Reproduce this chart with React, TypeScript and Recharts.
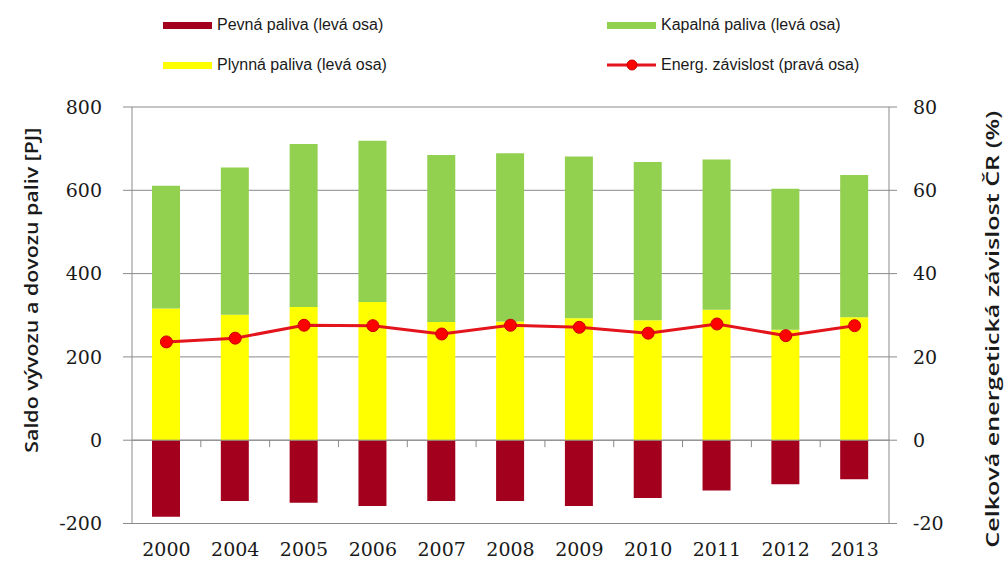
import {
  ComposedChart,
  Bar,
  Line,
  XAxis,
  YAxis,
  CartesianGrid,
  ReferenceLine,
} from "recharts";

const years = ["2000", "2004", "2005", "2006", "2007", "2008", "2009", "2010", "2011", "2012", "2013"];
const pevna = [-184, -146, -150, -158, -146, -146, -158, -139, -121, -106, -94];
const plynna = [316, 301, 320, 332, 284, 285, 293, 288, 313, 265, 295];
const kapalna = [295, 354, 391, 387, 401, 404, 388, 380, 361, 339, 342];
const zavislost = [23.6, 24.5, 27.6, 27.5, 25.5, 27.6, 27.1, 25.7, 27.9, 25.1, 27.5];

const leftTicks = [-200, 0, 200, 400, 600, 800];
const rightTicks = [-20, 0, 20, 40, 60, 80];

const data = years.map((year, i) => ({
  year,
  pevna: pevna[i],
  plynna: plynna[i],
  kapalna: kapalna[i],
  zavislost: zavislost[i],
}));

const GRID = "#8a8a8a";
const tickFont = { fontFamily: "DejaVu Serif", fontSize: 19, fill: "#1a1a1a" };

// legend order follows the original: two rows, two columns
const legendItems = [
  { label: "Pevná paliva (levá osa)", color: "#A3001E", kind: "bar", left: 163, top: 25 },
  { label: "Kapalná paliva (levá osa)", color: "#92D050", kind: "bar", left: 607, top: 25 },
  { label: "Plynná paliva (levá osa)", color: "#FFFF00", kind: "bar", left: 163, top: 65 },
  { label: "Energ. závislost (pravá osa)", color: "#E3141B", kind: "line", left: 607, top: 65 },
];

// zero line with small category-boundary ticks, like the Excel category axis
const ZeroAxis = (props: any) => {
  const { x1, x2, y1 } = props;
  if (x1 == null || x2 == null || y1 == null) return null;
  const step = (x2 - x1) / years.length;
  return (
    <g>
      <line x1={x1} x2={x2} y1={y1} y2={y1} stroke={GRID} strokeWidth={1} />
      {years.slice(1).map((_, i) => (
        <line key={i} x1={x1 + step * (i + 1)} x2={x1 + step * (i + 1)} y1={y1} y2={y1 + 7} stroke={GRID} />
      ))}
    </g>
  );
};

const titleStyle = { fontFamily: "Open Sans", fontWeight: 600, fontSize: 18, fill: "#1a1a1a" };

const LeftTitle = ({ viewBox }: any) => {
  const cx = viewBox.x + 31;
  const cy = viewBox.y + viewBox.height / 2 - 25;
  return (
    <text x={cx} y={cy} transform={`rotate(-90 ${cx} ${cy})`} textAnchor="middle" dominantBaseline="central"
      textLength={325} lengthAdjust="spacingAndGlyphs" style={titleStyle}>
      Saldo vývozu a dovozu paliv [PJ]
    </text>
  );
};

const RightTitle = ({ viewBox }: any) => {
  const cx = viewBox.x + 103;
  const cy = viewBox.y + viewBox.height / 2 + 14;
  return (
    <text x={cx} y={cy} transform={`rotate(-90 ${cx} ${cy})`} textAnchor="middle" dominantBaseline="central"
      textLength={437} lengthAdjust="spacingAndGlyphs" style={titleStyle}>
      Celková energetická závislost ČR (%)
    </text>
  );
};

const App = () => {
  return (
    <div style={{ position: "absolute", left: 0, top: 0, width: 1005, height: 561, background: "#fff" }}>
      <ComposedChart
        width={1005}
        height={561}
        data={data}
        stackOffset="sign"
        margin={{ top: 107, right: 0, bottom: 0, left: 0 }}
      >
        <CartesianGrid yAxisId="left" vertical={false} stroke={GRID} />
        <XAxis
          dataKey="year"
          height={37.5}
          axisLine={false}
          tickLine={false}
          tickSize={0}
          tickMargin={19}
          interval={0}
          tick={tickFont}
        />
        <YAxis
          yAxisId="left"
          width={132}
          domain={[-200, 800]}
          ticks={leftTicks}
          stroke={GRID}
          tickSize={9}
          tickMargin={21}
          tick={tickFont}
          label={<LeftTitle />}
        />
        <YAxis
          yAxisId="right"
          orientation="right"
          width={116}
          domain={[-20, 80]}
          ticks={rightTicks}
          stroke={GRID}
          tickSize={8}
          tickMargin={16}
          tick={tickFont}
          label={<RightTitle />}
        />
        <ReferenceLine yAxisId="left" y={0} shape={ZeroAxis} />
        <Bar yAxisId="left" dataKey="pevna" stackId="a" fill="#A3001E" barSize={28} isAnimationActive={false} />
        <Bar yAxisId="left" dataKey="plynna" stackId="a" fill="#FFFF00" barSize={28} isAnimationActive={false} />
        <Bar yAxisId="left" dataKey="kapalna" stackId="a" fill="#92D050" barSize={28} isAnimationActive={false} />
        <Line
          yAxisId="right"
          type="linear"
          dataKey="zavislost"
          stroke="#E3141B"
          strokeWidth={3}
          dot={{ r: 6, fill: "#FF0000", stroke: "#C80000", strokeWidth: 1 }}
          isAnimationActive={false}
        />
      </ComposedChart>

      {legendItems.map((item) => (
        <div
          key={item.label}
          style={{
            position: "absolute",
            left: item.left,
            top: item.top - 11,
            height: 22,
            display: "flex",
            alignItems: "center",
            fontFamily: "'Liberation Sans', sans-serif",
            fontSize: 16,
            color: "#1a1a1a",
            whiteSpace: "nowrap",
          }}
        >
          {item.kind === "bar" ? (
            <span style={{ display: "inline-block", width: 49, height: 7, background: item.color, marginRight: 5 }} />
          ) : (
            <svg width={49} height={14} style={{ marginRight: 5 }}>
              <line x1={0} x2={49} y1={7} y2={7} stroke={item.color} strokeWidth={3} />
              <circle cx={25} cy={7} r={5} fill="#FF0000" stroke="#C80000" />
            </svg>
          )}
          <span>{item.label}</span>
        </div>
      ))}
    </div>
  );
};

export default App;
